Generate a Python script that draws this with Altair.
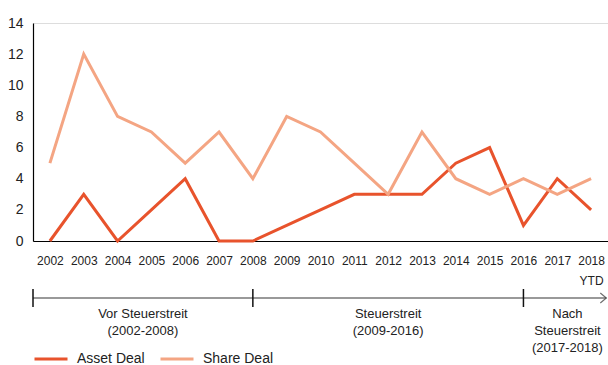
import altair as alt
import pandas as pd

# ---- data ----
years = list(range(2002, 2019))
asset_deal = [0, 3, 0, 2, 4, 0, 0, 1, 2, 3, 3, 3, 5, 6, 1, 4, 2]
share_deal = [5, 12, 8, 7, 5, 7, 4, 8, 7, 5, 3, 7, 4, 3, 4, 3, 4]
series_names = ["Asset Deal", "Share Deal"]
series_colors = ["#E8532C", "#F4A583"]
y_ticks = [0, 2, 4, 6, 8, 10, 12, 14]

period_labels = ["Vor Steuerstreit\n(2002-2008)", "Steuerstreit\n(2009-2016)",
                 "Nach\nSteuerstreit\n(2017-2018)"]
period_start = [2001.5, 2008, 2016]
period_end = [2008, 2016, 2018.6]
timeline_start = [2001.5]
timeline_end = [2018.45]

FONT = "Liberation Sans"

df = pd.DataFrame({
    "Jahr": years * 2,
    "Anzahl": asset_deal + share_deal,
    "Serie": [series_names[0]] * len(years) + [series_names[1]] * len(years),
})
periods = pd.DataFrame({"label": period_labels, "start": period_start, "end": period_end})
timeline = pd.DataFrame({"start": timeline_start, "end": timeline_end})

x_scale = alt.Scale(domain=[2001.5, 2018.5], nice=False, zero=False)
x_axis = alt.Axis(values=years, format="d", grid=False, ticks=False,
                  domainColor="#000", domainWidth=1.2,
                  labelFontSize=12, labelColor="#222", labelPadding=14,
                  labelLineHeight=20, labelFont=FONT, labelFlush=False,
                  labelOverlap=False, labelBound=False,
                  labelExpr="datum.value == 2018 ? ['2018', 'YTD'] : datum.label")

lines = alt.Chart(df).mark_line(strokeWidth=3).encode(
    x=alt.X("Jahr:Q", scale=x_scale, title=None, axis=x_axis),
    y=alt.Y("Anzahl:Q", scale=alt.Scale(domain=[0, 14], nice=False), title=None,
            axis=alt.Axis(values=y_ticks, grid=False, ticks=False, domainColor="#000",
                          domainWidth=1.2, labelFontSize=14, labelColor="#222",
                          labelPadding=10, labelFont=FONT, labelFlush=False)),
    color=alt.Color("Serie:N", scale=alt.Scale(domain=series_names, range=series_colors),
                    legend=alt.Legend(orient="none", legendX=0, legendY=318,
                                      direction="horizontal", title=None,
                                      symbolType="stroke", symbolSize=1089,
                                      symbolStrokeWidth=3, labelFontSize=14,
                                      labelFont=FONT, labelColor="#222",
                                      labelOffset=8, columnPadding=9)),
)

base_line = alt.Chart(timeline).mark_rule(color="#777", strokeWidth=1.5).encode(
    x=alt.X("start:Q", scale=x_scale, axis=x_axis, title=None), x2="end:Q", y=alt.value(275)
)
tick_marks = alt.Chart(periods).mark_rule(color="#111", strokeWidth=1.5).encode(
    x=alt.X("start:Q", scale=x_scale, axis=x_axis, title=None), y=alt.value(266), y2=alt.value(284)
)
arrow = alt.Chart(timeline).mark_point(
    shape="M -1.2 -1 L 0 0 L -1.2 1", filled=False, size=100, color="#333", strokeWidth=1.2
).encode(x=alt.X("end:Q", scale=x_scale, axis=x_axis, title=None), y=alt.value(275))
period_text = alt.Chart(periods).transform_calculate(
    mid="(datum.start + datum.end) / 2"
).mark_text(fontSize=13, font=FONT, color="#222", lineBreak="\n", lineHeight=17,
            baseline="top", align="center").encode(
    x=alt.X("mid:Q", scale=x_scale, axis=x_axis, title=None), y=alt.value(285), text="label:N"
)

chart = alt.layer(lines, base_line, tick_marks, arrow, period_text).properties(
    width=575, height=218,
    autosize=alt.AutoSizeParams(type="none"),
    padding={"left": 33, "top": 23, "right": 0, "bottom": 124},
).configure_view(stroke=None).configure(font=FONT).configure_axis(labelOverlap=False)

chart.save("out.html", embed_options={"renderer": "svg", "actions": False})
